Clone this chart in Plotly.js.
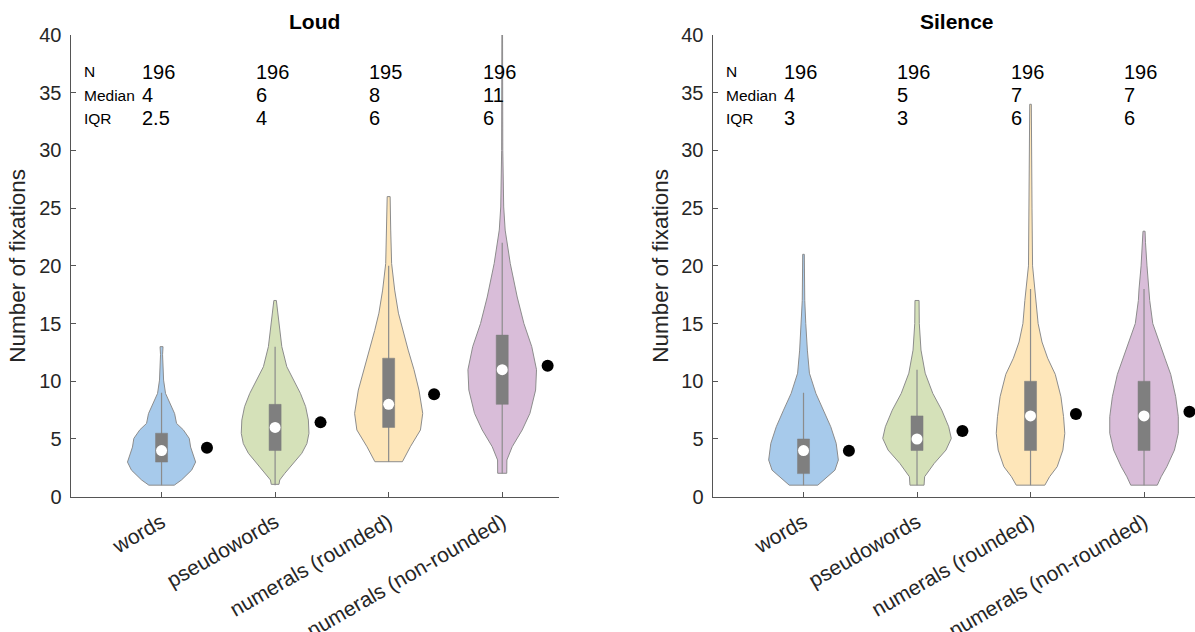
<!DOCTYPE html>
<html>
<head>
<meta charset="utf-8">
<script src="https://cdn.plot.ly/plotly-3.0.1.min.js"></script>
<style>html,body{margin:0;padding:0;background:#fff;}#chart{width:1195px;height:632px;}</style>
</head>
<body>
<div id="chart"></div>
<script>
// ---------- data ----------
const categories = ['words', 'pseudowords', 'numerals (rounded)', 'numerals (non-rounded)'];
const panelTitles = ['Loud', 'Silence'];
const statLabels = ['N', 'Median', 'IQR'];

// Loud
const loudN = [196, 196, 195, 196];
const loudMedian = [4, 6, 8, 11];
const loudIQR = [2.5, 4, 6, 6];
const loudQ1 = [3, 4, 6, 8];
const loudQ3 = [5.5, 8, 12, 14];
const loudWhiskerLow = [1, 1, 3, 2];
const loudWhiskerHigh = [9, 13, 20, 22];
const loudMean = [4.24, 6.44, 8.87, 11.34];

// Silence
const silenceN = [196, 196, 196, 196];
const silenceMedian = [4, 5, 7, 7];
const silenceIQR = [3, 3, 6, 6];
const silenceQ1 = [2, 4, 4, 4];
const silenceQ3 = [5, 7, 10, 10];
const silenceWhiskerLow = [1, 1, 1, 1];
const silenceWhiskerHigh = [9, 11, 18, 18];
const silenceMean = [3.98, 5.69, 7.16, 7.36];

// violin outlines: levels (number of fixations) and half-width (category units)
const loudWordsY = [1.0, 1.45, 2.3, 3.0, 4.3, 5.05, 5.8, 6.35, 7.2, 7.8, 8.95, 10.1, 11.3, 12.3, 13.0];
const loudWordsW = [0.112, 0.176, 0.265, 0.300, 0.256, 0.244, 0.191, 0.132, 0.115, 0.088, 0.035, 0.018, 0.011, 0.009, 0.013];
const loudPseudoY = [1.07, 1.45, 2.03, 2.9, 3.76, 4.6, 5.49, 6.64, 7.8, 8.95, 10.1, 11.26, 13.0, 15.3, 17.0];
const loudPseudoW = [0.034, 0.041, 0.086, 0.161, 0.235, 0.280, 0.298, 0.293, 0.269, 0.223, 0.161, 0.103, 0.059, 0.034, 0.011];
const loudRoundedY = [3.03, 4.33, 5.78, 7.22, 9.24, 11.0, 12.7, 14.4, 15.9, 17.9, 20.2, 23.1, 26.0];
const loudRoundedW = [0.121, 0.191, 0.280, 0.300, 0.267, 0.223, 0.172, 0.123, 0.086, 0.053, 0.026, 0.018, 0.013];
const loudNonRoundedY = [2.03, 3.18, 4.33, 5.78, 7.22, 9.24, 11.0, 13.0, 15.0, 17.3, 20.2, 23.1, 25.1, 30.0, 40.0];
const loudNonRoundedW = [0.040, 0.041, 0.088, 0.176, 0.244, 0.294, 0.302, 0.260, 0.191, 0.132, 0.071, 0.026, 0.013, 0.005, 0.003];

const silenceWordsY = [1.0, 1.59, 2.3, 3.18, 4.62, 6.06, 7.5, 8.95, 10.7, 12.7, 15.0, 17.0, 21.0];
const silenceWordsW = [0.126, 0.193, 0.277, 0.307, 0.288, 0.240, 0.176, 0.109, 0.052, 0.034, 0.020, 0.011, 0.007];
const silencePseudoY = [1.0, 1.73, 2.88, 4.04, 5.05, 6.06, 7.5, 8.95, 10.7, 12.7, 15.0, 17.0];
const silencePseudoW = [0.062, 0.067, 0.151, 0.255, 0.302, 0.279, 0.218, 0.139, 0.072, 0.035, 0.020, 0.018];
const silenceRoundedY = [1.0, 1.73, 2.6, 4.04, 5.49, 6.93, 8.66, 10.6, 12.0, 13.4, 15.0, 17.0, 20.0, 25.0, 30.0, 34.0];
const silenceRoundedW = [0.126, 0.168, 0.235, 0.285, 0.302, 0.291, 0.268, 0.218, 0.151, 0.101, 0.067, 0.050, 0.018, 0.013, 0.009, 0.007];
const silenceNonRoundedY = [1.0, 1.73, 2.6, 4.04, 5.49, 6.93, 8.66, 10.6, 12.0, 13.4, 15.0, 17.0, 18.0, 20.0, 22.0, 23.0];
const silenceNonRoundedW = [0.117, 0.151, 0.201, 0.268, 0.302, 0.302, 0.279, 0.235, 0.184, 0.134, 0.077, 0.050, 0.044, 0.026, 0.013, 0.009];

// ---------- styling ----------
const fillColors = ['#a7caeb', '#d5e1b9', '#fee6b9', '#d9bdd9'];
const outlineColor = '#8c8c8c';
const boxColor = '#7f7f7f';
const axisColor = '#555555';
const textColor = '#262626';
const FONT = 'Liberation Sans, Arial, Helvetica, sans-serif';
const boxHalf = 0.053;
const meanOffset = 0.4;

const panels = [
  { xa: 'x', ya: 'y', N: loudN, med: loudMedian, iqr: loudIQR, q1: loudQ1, q3: loudQ3,
    wl: loudWhiskerLow, wh: loudWhiskerHigh, mean: loudMean,
    shapes: [[loudWordsY, loudWordsW], [loudPseudoY, loudPseudoW], [loudRoundedY, loudRoundedW], [loudNonRoundedY, loudNonRoundedW]] },
  { xa: 'x2', ya: 'y2', N: silenceN, med: silenceMedian, iqr: silenceIQR, q1: silenceQ1, q3: silenceQ3,
    wl: silenceWhiskerLow, wh: silenceWhiskerHigh, mean: silenceMean,
    shapes: [[silenceWordsY, silenceWordsW], [silencePseudoY, silencePseudoW], [silenceRoundedY, silenceRoundedW], [silenceNonRoundedY, silenceNonRoundedW]] }
];

const traces = [];
const annotations = [];

panels.forEach((p, pi) => {
  categories.forEach((cat, i) => {
    const c = i + 1;
    const ys = p.shapes[i][0], ws = p.shapes[i][1];
    const vx = ys.map((y, k) => c + ws[k]).concat(ys.slice().reverse().map((y, k) => c - ws[ws.length - 1 - k]));
    const vy = ys.concat(ys.slice().reverse());
    vx.push(vx[0]); vy.push(vy[0]);
    traces.push({ type: 'scatter', mode: 'lines', x: vx, y: vy, xaxis: p.xa, yaxis: p.ya,
      fill: 'toself', fillcolor: fillColors[i], line: { color: outlineColor, width: 1 }, hoverinfo: 'skip', showlegend: false });
    // whisker
    traces.push({ type: 'scatter', mode: 'lines', x: [c, c], y: [p.wl[i], p.wh[i]], xaxis: p.xa, yaxis: p.ya,
      line: { color: outlineColor, width: 1.2 }, hoverinfo: 'skip', showlegend: false });
    // box
    traces.push({ type: 'scatter', mode: 'lines', x: [c - boxHalf, c + boxHalf, c + boxHalf, c - boxHalf, c - boxHalf],
      y: [p.q1[i], p.q1[i], p.q3[i], p.q3[i], p.q1[i]], xaxis: p.xa, yaxis: p.ya,
      fill: 'toself', fillcolor: boxColor, line: { color: boxColor, width: 0.5 }, hoverinfo: 'skip', showlegend: false });
    // median
    traces.push({ type: 'scatter', mode: 'markers', x: [c], y: [p.med[i]], xaxis: p.xa, yaxis: p.ya,
      marker: { color: '#ffffff', size: 11, line: { width: 0 } }, hoverinfo: 'skip', showlegend: false });
    // mean
    traces.push({ type: 'scatter', mode: 'markers', x: [c + meanOffset], y: [p.mean[i]], xaxis: p.xa, yaxis: p.ya,
      marker: { color: '#000000', size: 12, line: { width: 0 } }, hoverinfo: 'skip', showlegend: false });
    // stats numbers
    [p.N[i], p.med[i], p.iqr[i]].forEach((v, r) => {
      annotations.push({ xref: p.xa, yref: p.ya, x: c - 0.19, y: 36.8 - 2 * r, text: String(v),
        showarrow: false, xanchor: 'left', yanchor: 'middle', font: { family: FONT, size: 20, color: '#000' } });
    });
  });
  statLabels.forEach((lab, r) => {
    annotations.push({ xref: p.xa, yref: p.ya, x: 0.3, y: 36.8 - 2 * r, text: lab,
      showarrow: false, xanchor: 'left', yanchor: 'middle', font: { family: FONT, size: 15.5, color: '#000' } });
  });
});

const W = 1195, H = 632;
const dom1 = [70.7 / W, 559 / W];
const dom2 = [712.7 / W, 1];
const ydom = [(H - 496.7) / H, (H - 35) / H];

// panel titles
[dom1, dom2].forEach((d, i) => {
  const xc = i === 0 ? (d[0] + d[1]) / 2 : (712.7 + 1201) / 2 / W;
  annotations.push({ xref: 'paper', yref: 'paper', x: xc, y: 1 - 21.7 / H, text: '<b>' + panelTitles[i] + '</b>',
    showarrow: false, xanchor: 'center', yanchor: 'middle', font: { family: FONT, size: 21, color: '#000' } });
});
// y axis titles
[18, 661].forEach(px => {
  annotations.push({ xref: 'paper', yref: 'paper', x: px / W, y: (ydom[0] + ydom[1]) / 2, text: 'Number of fixations',
    textangle: -90, showarrow: false, xanchor: 'center', yanchor: 'middle', font: { family: FONT, size: 22.5, color: textColor } });
});

function xaxis(domain, range, yAnchor) {
  return { domain: domain, range: range, anchor: yAnchor, tickmode: 'array', tickvals: [1, 2, 3, 4], ticktext: categories,
    tickangle: -30, ticks: 'inside', ticklen: 5, tickcolor: axisColor, tickwidth: 1,
    showline: true, linecolor: axisColor, linewidth: 1.2, showgrid: false, zeroline: false,
    ticklabelstandoff: 4,
    tickfont: { family: FONT, size: 21, color: textColor }, automargin: false, fixedrange: true };
}
function yaxis(domain, xAnchor) {
  return { domain: domain, range: [0, 40], anchor: xAnchor, tickmode: 'array', tickvals: [0, 5, 10, 15, 20, 25, 30, 35, 40],
    ticks: 'inside', ticklen: 5, tickcolor: axisColor, tickwidth: 1,
    showline: true, linecolor: axisColor, linewidth: 1.2, showgrid: false, zeroline: false,
    ticklabelstandoff: 4,
    tickfont: { family: FONT, size: 20, color: textColor }, automargin: false, fixedrange: true };
}

const layout = {
  width: W, height: H,
  margin: { l: 0, r: 0, t: 0, b: 0 },
  paper_bgcolor: '#ffffff', plot_bgcolor: 'rgba(0,0,0,0)',
  showlegend: false,
  xaxis: xaxis(dom1, [0.2, 4.5], 'y'),
  yaxis: yaxis(ydom, 'x'),
  xaxis2: xaxis(dom2, [0.2, 4.449], 'y2'),
  yaxis2: yaxis(ydom, 'x2'),
  annotations: annotations
};

Plotly.newPlot('chart', traces, layout, { displayModeBar: false, staticPlot: true });
</script>
</body>
</html>
